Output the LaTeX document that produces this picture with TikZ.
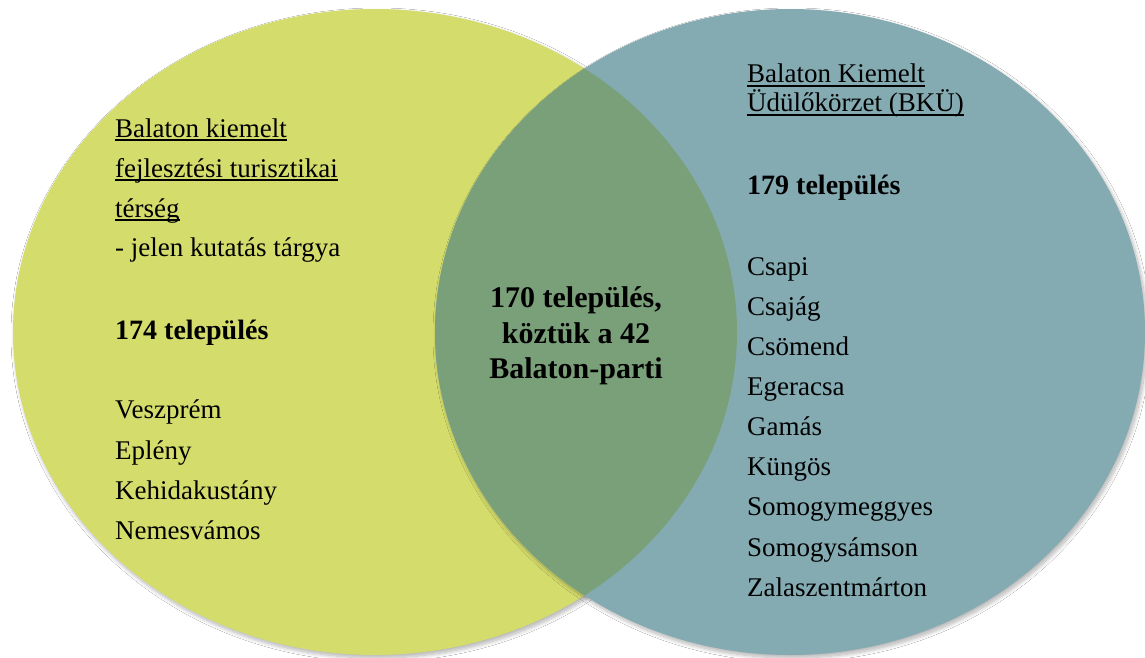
\documentclass[tikz,border=0pt]{standalone}
\usepackage{fontspec}
\setmainfont{Liberation Serif}
\usetikzlibrary{shadows.blur}
\definecolor{venYellow}{RGB}{212,220,108}
\definecolor{venBlue}{RGB}{132,170,178}
\definecolor{venGreen}{RGB}{122,160,122}
\tikzset{
  setshape/.style={blur shadow={shadow xshift=2pt,shadow yshift=-3pt,shadow opacity=30,shadow blur steps=10,shadow blur radius=4pt}},
  txt/.style={anchor=base west,inner sep=0pt,text=black,font=\fontsize{27}{32}\selectfont},
  btxt/.style={txt,font=\fontsize{28}{32}\selectfont\bfseries},
  ctxt/.style={anchor=base,inner sep=0pt,text=black,font=\fontsize{30}{34}\selectfont\bfseries},
  uline/.style={line width=1.2pt,black}
}
\begin{document}
\begin{tikzpicture}[x=1pt,y=-1pt]
\useasboundingbox (0,0) rectangle (1145,658);
\fill[white] (0,0) rectangle (1145,658);
% circles
\fill[venYellow,setshape] (375,332) ellipse [x radius=362,y radius=323];
\fill[venBlue,setshape] (790,332) ellipse [x radius=355,y radius=323];
\begin{scope}
  \clip (375,332) ellipse [x radius=362,y radius=323];
  \fill[venGreen] (790,332) ellipse [x radius=355,y radius=323];
\end{scope}
% left texts
\node[txt] (l1) at (115,137) {Balaton kiemelt};
\node[txt] (l2) at (115,177) {fejlesztési turisztikai};
\node[txt] (l3) at (115,217) {térség};
\node[txt] (l4) at (115,256) {- jelen kutatás tárgya};
\node[btxt] (l5) at (115,339) {174 település};
\node[txt] (l6) at (115,418) {Veszprém};
\node[txt] (l7) at (115,459) {Eplény};
\node[txt] (l8) at (115,499) {Kehidakustány};
\node[txt] (l9) at (115,539) {Nemesvámos};
\foreach \n in {l1,l2,l3}
  \draw[uline] ([yshift=-3pt]\n.base west) -- ([yshift=-3pt]\n.base east);
% right texts
\node[txt] (r1) at (747,83) {Balaton Kiemelt};
\node[txt] (r2) at (747,112) {Üdülőkörzet (BKÜ)};
\node[btxt] (r3) at (747,194) {179 település};
\node[txt] (r4) at (747,275) {Csapi};
\node[txt] (r5) at (747,315) {Csajág};
\node[txt] (r6) at (747,355) {Csömend};
\node[txt] (r7) at (747,395) {Egeracsa};
\node[txt] (r8) at (747,435) {Gamás};
\node[txt] (r9) at (747,475) {Küngös};
\node[txt] (r10) at (747,515) {Somogymeggyes};
\node[txt] (r11) at (747,556) {Somogysámson};
\node[txt] (r12) at (747,596) {Zalaszentmárton};
\foreach \n in {r1,r2}
  \draw[uline] ([yshift=-3pt]\n.base west) -- ([yshift=-3pt]\n.base east);
% centre texts
\node[ctxt] (c1) at (576,307) {170 település,};
\node[ctxt] (c2) at (576,343) {köztük a 42};
\node[ctxt] (c3) at (576,378) {Balaton-parti};
\end{tikzpicture}
\end{document}
